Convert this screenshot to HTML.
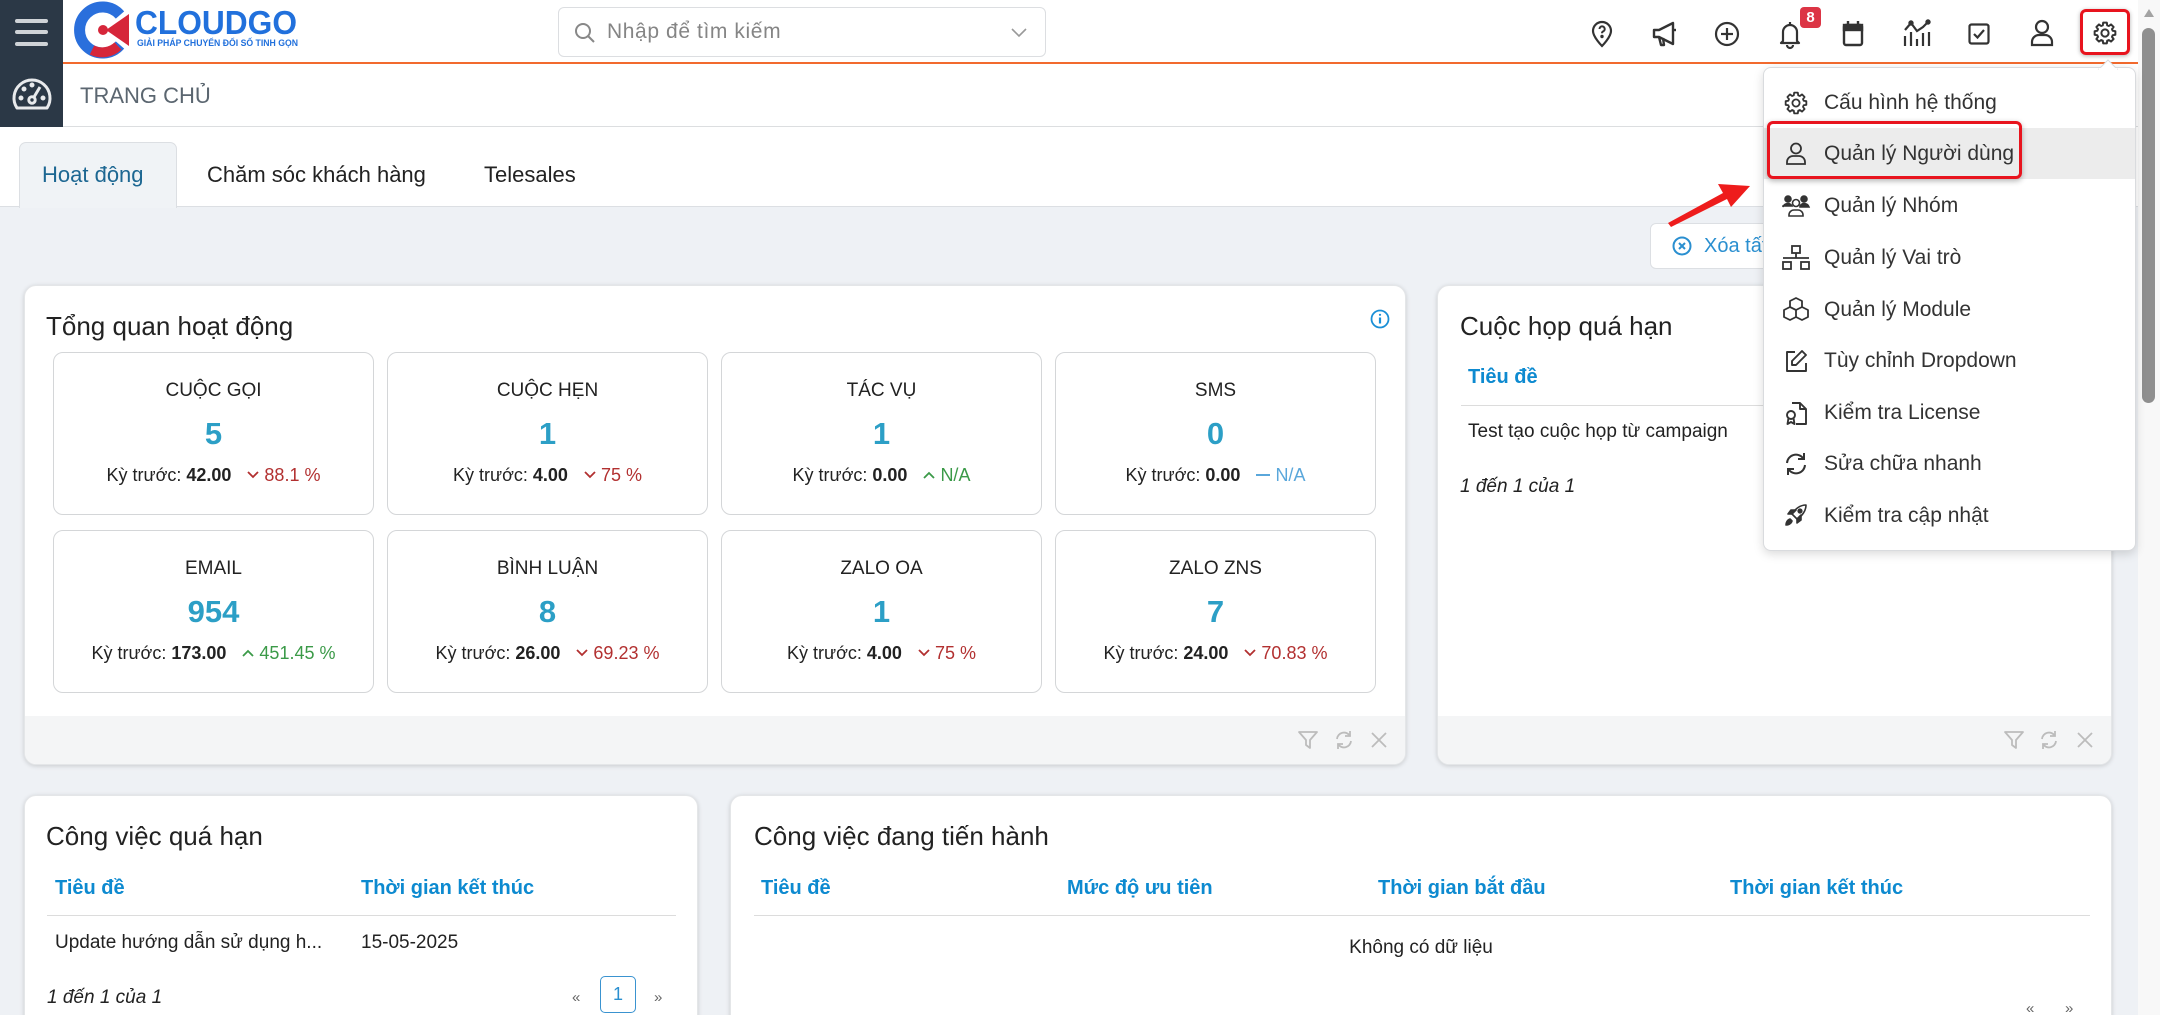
<!DOCTYPE html>
<html lang="vi"><head><meta charset="utf-8">
<style>
*{box-sizing:border-box;margin:0;padding:0}
html,body{width:2160px;height:1015px;overflow:hidden}
body{position:relative;background:#eef1f5;font-family:"Liberation Sans","DejaVu Sans",sans-serif;color:#222}
.a{position:absolute}
.ic{position:absolute;overflow:visible}
.card{position:absolute;background:#fff;border-radius:12px;box-shadow:0 1px 5px rgba(0,0,0,.16);border:1px solid #e4e6e8;overflow:hidden}
.ttl{position:absolute;font-size:26px;line-height:30px;color:#222;white-space:nowrap}
.box{position:absolute;width:321px;height:163px;border:1px solid #d4d6d8;border-radius:10px;text-align:center;background:#fff}
.lbl{position:absolute;left:0;right:0;top:25px;line-height:26px;font-size:19px;color:#222}
.val{position:absolute;left:0;right:0;top:63px;line-height:36px;font-size:31px;font-weight:bold;color:#2c9fc6}
.prev{position:absolute;left:0;right:0;top:109px;line-height:26px;font-size:18px;color:#222;white-space:nowrap}
.prev b{color:#222}
.red{color:#b23030}.grn{color:#3b9a48}.blu{color:#5aa7db}
.chev{display:inline-block;vertical-align:middle;margin:0 5px 3px 16px}
.th{position:absolute;font-size:20px;font-weight:bold;line-height:24px;color:#0d8ad0;white-space:nowrap}
.td{position:absolute;font-size:19px;line-height:24px;color:#222;white-space:nowrap}
.it{font-style:italic}
.foot{position:absolute;left:0;right:0;bottom:0;height:48px;background:#f4f5f6}
.dd{position:absolute;left:1763px;top:67px;width:373px;height:484px;background:#fff;border:1px solid #d9dbde;border-radius:8px;box-shadow:0 3px 10px rgba(0,0,0,.15)}
.mi{position:absolute;left:60px;font-size:21px;line-height:28px;color:#333;white-space:nowrap}
</style></head><body>

<!-- sidebar -->
<div class="a" style="left:0;top:0;width:63px;height:127px;background:#2b3846"></div>
<div class="a" style="left:15px;top:19px;width:33px;height:4px;border-radius:2px;background:#cfd3d7"></div>
<div class="a" style="left:15px;top:30px;width:33px;height:4px;border-radius:2px;background:#cfd3d7"></div>
<div class="a" style="left:15px;top:42px;width:33px;height:4px;border-radius:2px;background:#cfd3d7"></div>
<svg class="ic" style="left:11px;top:76px" width="42" height="36" viewBox="0 0 42 36" fill="none" stroke="#e8eaec" stroke-width="3">
<path d="M6 32 A18 18 0 1 1 36 32 Z" stroke-linejoin="round"/>
<circle cx="21" cy="24" r="3.2"/><line x1="23" y1="21" x2="29" y2="11"/>
<circle cx="10" cy="22" r="1" fill="#e8eaec"/><circle cx="13" cy="13" r="1" fill="#e8eaec"/><circle cx="21" cy="9" r="1" fill="#e8eaec"/><circle cx="32" cy="22" r="1" fill="#e8eaec"/>
</svg>

<!-- top bar -->
<div class="a" style="left:63px;top:0;width:2075px;height:62px;background:#fff"></div>
<div class="a" style="left:63px;top:62px;width:2075px;height:2px;background:#f26a2e"></div>
<div class="a" style="left:63px;top:64px;width:2075px;height:63px;background:#fff;border-bottom:1px solid #dcdee0"></div>
<div class="a" style="left:0;top:127px;width:2138px;height:80px;background:#fff;border-bottom:1px solid #dcdfe3"></div>

<!-- logo -->
<svg class="ic" style="left:72px;top:2px" width="232" height="56" viewBox="0 0 232 56">
<path d="M48 13 A23 23 0 1 0 48 43" fill="none" stroke="#2a6fdc" stroke-width="11"/>
<path d="M57 12 L57 44 L34 28 Z" fill="#d6263a"/>
<path d="M46 44 A23 23 0 0 1 20 48" fill="none" stroke="#d6263a" stroke-width="10"/>
<circle cx="31" cy="28" r="5" fill="#d6263a"/>
<text x="63" y="32" font-family="Liberation Sans" font-weight="bold" font-size="33" fill="#2170dc" textLength="162" lengthAdjust="spacingAndGlyphs">CLOUDGO</text>
<text x="65" y="44" font-family="Liberation Sans" font-weight="bold" font-size="9.5" fill="#2170dc" textLength="161" lengthAdjust="spacingAndGlyphs">GIẢI PHÁP CHUYỂN ĐỔI SỐ TINH GỌN</text>
</svg>

<!-- search -->
<div class="a" style="left:558px;top:7px;width:488px;height:50px;border:1px solid #dcdee1;border-radius:6px;background:#fff"></div>
<svg class="ic" style="left:574px;top:22px" width="22" height="22" viewBox="0 0 22 22" fill="none" stroke="#888" stroke-width="2"><circle cx="9" cy="9" r="7"/><line x1="14" y1="14" x2="20" y2="20"/></svg>
<div class="a" style="left:607px;top:18px;font-size:21px;letter-spacing:0.6px;line-height:28px;color:#858585">Nhập để tìm kiếm</div>
<svg class="ic" style="left:1011px;top:28px" width="16" height="10" viewBox="0 0 16 10" fill="none" stroke="#999" stroke-width="1.6"><polyline points="1,1 8,8 15,1"/></svg>

<!-- top icons -->
<svg class="ic" style="left:1590px;top:20px" width="24" height="28" viewBox="0 0 24 28" fill="none" stroke="#333" stroke-width="2.2"><path d="M12 2C7 2 3 6 3 11c0 6 9 15 9 15s9-9 9-15c0-5-4-9-9-9z"/><path d="M9.5 9a2.6 2.6 0 1 1 3.6 2.4c-.8.4-1.1.9-1.1 1.8" stroke-width="2"/><circle cx="12" cy="16.5" r=".6" fill="#333"/></svg>
<svg class="ic" style="left:1651px;top:20px" width="28" height="28" viewBox="0 0 28 28" fill="none" stroke="#333" stroke-width="2.4" stroke-linejoin="round"><path d="M3 10h5l14-7v21L8 17H3z"/><path d="M8 17l2 8h3l-1-7"/><line x1="22" y1="10" x2="25" y2="10"/></svg>
<svg class="ic" style="left:1714px;top:21px" width="26" height="26" viewBox="0 0 26 26" fill="none" stroke="#333" stroke-width="2.2"><circle cx="13" cy="13" r="11"/><line x1="13" y1="7" x2="13" y2="19"/><line x1="7" y1="13" x2="19" y2="13"/></svg>
<svg class="ic" style="left:1778px;top:19px" width="24" height="30" viewBox="0 0 24 30" fill="none" stroke="#333" stroke-width="2.2" stroke-linejoin="round"><path d="M12 3v2M5 22V13a7 7 0 0 1 14 0v9l2 2H3z"/><path d="M9 26a3 3 0 0 0 6 0"/></svg>
<div class="a" style="left:1800px;top:7px;width:21px;height:21px;border-radius:4px;background:#dc3545;color:#fff;font-size:15px;font-weight:bold;line-height:21px;text-align:center">8</div>
<svg class="ic" style="left:1842px;top:20px" width="22" height="27" viewBox="0 0 22 27" fill="none" stroke="#333" stroke-width="2.4"><rect x="2" y="5" width="18" height="20" rx="2"/><rect x="2" y="5" width="18" height="5" fill="#333"/><line x1="6" y1="1" x2="6" y2="6"/><line x1="16" y1="1" x2="16" y2="6"/></svg>
<svg class="ic" style="left:1902px;top:19px" width="28" height="28" viewBox="0 0 28 28" fill="none" stroke="#333" stroke-width="2.2"><line x1="3" y1="17" x2="3" y2="27"/><line x1="9" y1="13" x2="9" y2="27"/><line x1="15" y1="20" x2="15" y2="27"/><line x1="21" y1="14" x2="21" y2="27"/><line x1="27" y1="13" x2="27" y2="27"/><polyline points="3,11 9,4 15,12 21,8 26,3"/><circle cx="9" cy="4" r="1.6" fill="#333"/><circle cx="26" cy="3" r="1.6" fill="#333"/></svg>
<svg class="ic" style="left:1968px;top:23px" width="22" height="22" viewBox="0 0 22 22" fill="none" stroke="#333" stroke-width="2.2"><rect x="1.5" y="1.5" width="19" height="19" rx="2"/><polyline points="6,11 9.5,14.5 16,7"/></svg>
<svg class="ic" style="left:2030px;top:19px" width="24" height="28" viewBox="0 0 24 28" fill="none" stroke="#333" stroke-width="2.2"><circle cx="12" cy="8" r="6"/><path d="M2 26v-3a7 7 0 0 1 7-7h6a7 7 0 0 1 7 7v3z"/></svg>
<div class="a" style="left:2080px;top:9px;width:50px;height:46px;border:3px solid #e8141e;border-radius:6px;box-shadow:0 1px 4px rgba(0,0,0,.3)"></div>
<svg class="ic" style="left:2093px;top:21px" width="24" height="24" viewBox="0 0 24 24" fill="none" stroke="#333" stroke-width="2" stroke-linejoin="round"><polygon points="19.69,9.79 22.34,10.18 22.34,13.82 19.69,14.21 19,15.88 20.6,18.03 18.03,20.6 15.88,19 14.21,19.69 13.82,22.34 10.18,22.34 9.79,19.69 8.12,19 5.97,20.6 3.4,18.03 5,15.88 4.31,14.21 1.66,13.82 1.66,10.18 4.31,9.79 5,8.12 3.4,5.97 5.97,3.4 8.12,5 9.79,4.31 10.18,1.66 13.82,1.66 14.21,4.31 15.88,5 18.03,3.4 20.6,5.97 19,8.12"/><circle cx="12" cy="12" r="3.6"/></svg>

<!-- page title -->
<div class="a" style="left:80px;top:81px;font-size:22px;line-height:30px;color:#5b6670">TRANG CHỦ</div>

<!-- tabs -->
<div class="a" style="left:19px;top:142px;width:158px;height:66px;background:#f0f3f6;border:1px solid #dcdfe3;border-bottom:none;border-radius:7px 7px 0 0"></div>
<div class="a" style="left:42px;top:161px;font-size:22px;line-height:28px;color:#1d6792">Hoạt động</div>
<div class="a" style="left:207px;top:161px;font-size:22px;line-height:28px;color:#222">Chăm sóc khách hàng</div>
<div class="a" style="left:484px;top:161px;font-size:22px;line-height:28px;color:#222">Telesales</div>

<!-- Xoa button -->
<div class="a" style="left:1650px;top:223px;width:200px;height:46px;background:#fff;border:1px solid #dcdfe3;border-radius:6px"></div>
<svg class="ic" style="left:1672px;top:236px" width="20" height="20" viewBox="0 0 20 20" fill="none" stroke="#2a8fd0" stroke-width="2"><circle cx="10" cy="10" r="8.5"/><line x1="7" y1="7" x2="13" y2="13"/><line x1="13" y1="7" x2="7" y2="13"/></svg>
<div class="a" style="left:1704px;top:233px;font-size:20px;line-height:26px;color:#2a8fd0;white-space:nowrap">Xóa tất cả</div>

<!-- Card 1 -->
<div class="card" style="left:24px;top:285px;width:1382px;height:480px">
<div class="ttl" style="left:21px;top:25px">Tổng quan hoạt động</div>
<svg class="ic" style="left:1345px;top:23px" width="20" height="20" viewBox="0 0 20 20" fill="none" stroke="#1a8fd6" stroke-width="1.8"><circle cx="10" cy="10" r="8.5"/><line x1="10" y1="8.5" x2="10" y2="14.5" stroke-width="2.2"/><circle cx="10" cy="5.8" r="1.1" fill="#1a8fd6" stroke="none"/></svg>

<div class="box" style="left:28px;top:66px"><div class="lbl">CUỘC GỌI</div><div class="val">5</div><div class="prev">Kỳ trước: <b>42.00</b><svg class="chev" width="12" height="8" viewBox="0 0 12 8"><polyline points="1,1 6,6 11,1" fill="none" stroke="#b23030" stroke-width="1.8"/></svg><span class="red">88.1 %</span></div></div>
<div class="box" style="left:362px;top:66px"><div class="lbl">CUỘC HẸN</div><div class="val">1</div><div class="prev">Kỳ trước: <b>4.00</b><svg class="chev" width="12" height="8" viewBox="0 0 12 8"><polyline points="1,1 6,6 11,1" fill="none" stroke="#b23030" stroke-width="1.8"/></svg><span class="red">75 %</span></div></div>
<div class="box" style="left:696px;top:66px"><div class="lbl">TÁC VỤ</div><div class="val">1</div><div class="prev">Kỳ trước: <b>0.00</b><svg class="chev" width="12" height="8" viewBox="0 0 12 8"><polyline points="1,7 6,2 11,7" fill="none" stroke="#3b9a48" stroke-width="1.8"/></svg><span class="grn">N/A</span></div></div>
<div class="box" style="left:1030px;top:66px"><div class="lbl">SMS</div><div class="val">0</div><div class="prev">Kỳ trước: <b>0.00</b><svg class="chev" width="14" height="8" viewBox="0 0 14 8"><line x1="0" y1="4" x2="14" y2="4" stroke="#5aa7db" stroke-width="2"/></svg><span class="blu">N/A</span></div></div>

<div class="box" style="left:28px;top:244px"><div class="lbl">EMAIL</div><div class="val">954</div><div class="prev">Kỳ trước: <b>173.00</b><svg class="chev" width="12" height="8" viewBox="0 0 12 8"><polyline points="1,7 6,2 11,7" fill="none" stroke="#3b9a48" stroke-width="1.8"/></svg><span class="grn">451.45 %</span></div></div>
<div class="box" style="left:362px;top:244px"><div class="lbl">BÌNH LUẬN</div><div class="val">8</div><div class="prev">Kỳ trước: <b>26.00</b><svg class="chev" width="12" height="8" viewBox="0 0 12 8"><polyline points="1,1 6,6 11,1" fill="none" stroke="#b23030" stroke-width="1.8"/></svg><span class="red">69.23 %</span></div></div>
<div class="box" style="left:696px;top:244px"><div class="lbl">ZALO OA</div><div class="val">1</div><div class="prev">Kỳ trước: <b>4.00</b><svg class="chev" width="12" height="8" viewBox="0 0 12 8"><polyline points="1,1 6,6 11,1" fill="none" stroke="#b23030" stroke-width="1.8"/></svg><span class="red">75 %</span></div></div>
<div class="box" style="left:1030px;top:244px"><div class="lbl">ZALO ZNS</div><div class="val">7</div><div class="prev">Kỳ trước: <b>24.00</b><svg class="chev" width="12" height="8" viewBox="0 0 12 8"><polyline points="1,1 6,6 11,1" fill="none" stroke="#b23030" stroke-width="1.8"/></svg><span class="red">70.83 %</span></div></div>

<div class="foot">
<svg class="ic" style="left:1273px;top:14px" width="20" height="20" viewBox="0 0 20 20" fill="none" stroke="#bcbcbc" stroke-width="1.8" stroke-linejoin="round"><path d="M1 2h18l-7 8v8l-4-3v-5z"/></svg>
<svg class="ic" style="left:1309px;top:14px" width="20" height="20" viewBox="0 0 20 20" fill="none" stroke="#bcbcbc" stroke-width="1.8"><path d="M3 9a7 7 0 0 1 13-3"/><polyline points="16,1 16,6 11,6"/><path d="M17 11a7 7 0 0 1-13 3"/><polyline points="4,19 4,14 9,14"/></svg>
<svg class="ic" style="left:1345px;top:15px" width="18" height="18" viewBox="0 0 18 18" fill="none" stroke="#bcbcbc" stroke-width="1.8"><line x1="2" y1="2" x2="16" y2="16"/><line x1="16" y1="2" x2="2" y2="16"/></svg>
</div>
</div>

<!-- Card 2 -->
<div class="card" style="left:1437px;top:285px;width:675px;height:480px">
<div class="ttl" style="left:22px;top:25px">Cuộc họp quá hạn</div>
<div class="th" style="left:30px;top:79px">Tiêu đề</div>
<div class="a" style="left:23px;top:119px;width:630px;height:1px;background:#dcdcdc"></div>
<div class="td" style="left:30px;top:134px">Test tạo cuộc họp từ campaign</div>
<div class="td it" style="left:22px;top:189px">1 đến 1 của 1</div>
<div class="foot">
<svg class="ic" style="left:566px;top:14px" width="20" height="20" viewBox="0 0 20 20" fill="none" stroke="#bcbcbc" stroke-width="1.8" stroke-linejoin="round"><path d="M1 2h18l-7 8v8l-4-3v-5z"/></svg>
<svg class="ic" style="left:601px;top:14px" width="20" height="20" viewBox="0 0 20 20" fill="none" stroke="#bcbcbc" stroke-width="1.8"><path d="M3 9a7 7 0 0 1 13-3"/><polyline points="16,1 16,6 11,6"/><path d="M17 11a7 7 0 0 1-13 3"/><polyline points="4,19 4,14 9,14"/></svg>
<svg class="ic" style="left:638px;top:15px" width="18" height="18" viewBox="0 0 18 18" fill="none" stroke="#bcbcbc" stroke-width="1.8"><line x1="2" y1="2" x2="16" y2="16"/><line x1="16" y1="2" x2="2" y2="16"/></svg>
</div>
</div>

<!-- Card 3 -->
<div class="card" style="left:24px;top:795px;width:674px;height:260px">
<div class="ttl" style="left:21px;top:25px">Công việc quá hạn</div>
<div class="th" style="left:30px;top:80px">Tiêu đề</div>
<div class="th" style="left:336px;top:80px">Thời gian kết thúc</div>
<div class="a" style="left:22px;top:119px;width:629px;height:1px;background:#dcdcdc"></div>
<div class="td" style="left:30px;top:135px">Update hướng dẫn sử dụng h...</div>
<div class="td" style="left:336px;top:135px">15-05-2025</div>
<div class="td it" style="left:22px;top:190px">1 đến 1 của 1</div>
<div class="a" style="left:547px;top:190px;font-size:15px;line-height:24px;color:#666">«</div>
<div class="a" style="left:575px;top:180px;width:36px;height:37px;border:1px solid #3a93d0;border-radius:5px;color:#2a8fd0;font-size:18px;line-height:35px;text-align:center">1</div>
<div class="a" style="left:629px;top:190px;font-size:15px;line-height:24px;color:#666">»</div>
</div>

<!-- Card 4 -->
<div class="card" style="left:730px;top:795px;width:1382px;height:260px">
<div class="ttl" style="left:23px;top:25px">Công việc đang tiến hành</div>
<div class="th" style="left:30px;top:80px">Tiêu đề</div>
<div class="th" style="left:336px;top:80px">Mức độ ưu tiên</div>
<div class="th" style="left:647px;top:80px">Thời gian bắt đầu</div>
<div class="th" style="left:999px;top:80px">Thời gian kết thúc</div>
<div class="a" style="left:23px;top:119px;width:1336px;height:1px;background:#dcdcdc"></div>
<div class="td" style="left:0;width:1380px;text-align:center;top:140px">Không có dữ liệu</div>
<div class="a" style="left:1295px;top:201px;font-size:15px;line-height:24px;color:#666">«</div>
<div class="a" style="left:1334px;top:201px;font-size:15px;line-height:24px;color:#666">»</div>
</div>

<!-- scrollbar -->
<div class="a" style="left:2138px;top:0;width:22px;height:1015px;background:#f8f8f8"></div>
<svg class="ic" style="left:2143px;top:8px" width="12" height="10" viewBox="0 0 12 10"><polygon points="6,1 11,9 1,9" fill="#a3a3a3"/></svg>
<div class="a" style="left:2142px;top:28px;width:13px;height:375px;border-radius:7px;background:#8f8f8f"></div>

<!-- dropdown -->
<div class="dd">
<svg class="ic" style="left:335px;top:-9px" width="18" height="10" viewBox="0 0 18 10"><polygon points="0,10 9,1 18,10" fill="#fff" stroke="#d9dbde"/><rect x="0" y="9" width="18" height="2" fill="#fff"/></svg>
<div class="a" style="left:0;top:60px;width:371px;height:51px;background:#ececec"></div>

<svg class="ic" style="left:20px;top:23px" width="24" height="24" viewBox="0 0 24 24" fill="none" stroke="#333" stroke-width="1.8" stroke-linejoin="round"><polygon points="19.69,9.79 22.34,10.18 22.34,13.82 19.69,14.21 19,15.88 20.6,18.03 18.03,20.6 15.88,19 14.21,19.69 13.82,22.34 10.18,22.34 9.79,19.69 8.12,19 5.97,20.6 3.4,18.03 5,15.88 4.31,14.21 1.66,13.82 1.66,10.18 4.31,9.79 5,8.12 3.4,5.97 5.97,3.4 8.12,5 9.79,4.31 10.18,1.66 13.82,1.66 14.21,4.31 15.88,5 18.03,3.4 20.6,5.97 19,8.12"/><circle cx="12" cy="12" r="3.6"/></svg>
<div class="mi" style="top:21px">Cấu hình hệ thống</div>

<svg class="ic" style="left:21px;top:74px" width="22" height="24" viewBox="0 0 22 24" fill="none" stroke="#333" stroke-width="1.8"><circle cx="11" cy="6.5" r="5"/><path d="M2 22v-2a6 6 0 0 1 6-6h6a6 6 0 0 1 6 6v2z"/></svg>
<div class="mi" style="top:72px">Quản lý Người dùng</div>

<svg class="ic" style="left:18px;top:126px" width="28" height="24" viewBox="0 0 28 24" fill="#333" stroke="#333" stroke-width="1.6"><circle cx="6" cy="5" r="3"/><circle cx="22" cy="5" r="3"/><path d="M1 13a5 5 0 0 1 9-1H1z"/><path d="M18 12a5 5 0 0 1 9 1h-9z"/><circle cx="14" cy="9" r="3.5" fill="none"/><path d="M7 22v-1a5 5 0 0 1 5-5h4a5 5 0 0 1 5 5v1z" fill="none"/></svg>
<div class="mi" style="top:124px">Quản lý Nhóm</div>

<svg class="ic" style="left:18px;top:177px" width="28" height="26" viewBox="0 0 28 26" fill="none" stroke="#333" stroke-width="1.8"><rect x="10" y="1" width="8" height="7"/><rect x="1" y="17" width="8" height="7"/><rect x="19" y="17" width="8" height="7"/><path d="M14 8v5M1 13h26"/></svg>
<div class="mi" style="top:176px">Quản lý Vai trò</div>

<svg class="ic" style="left:19px;top:229px" width="26" height="26" viewBox="0 0 26 26" fill="none" stroke="#333" stroke-width="1.8" stroke-linejoin="round"><path d="M13 1l6 3v6l-6 3-6-3V4z"/><path d="M7 10l6 3v7l-6 3-6-3v-7z"/><path d="M19 10l6 3v7l-6 3-6-3"/></svg>
<div class="mi" style="top:228px">Quản lý Module</div>

<svg class="ic" style="left:20px;top:281px" width="24" height="24" viewBox="0 0 24 24" fill="none" stroke="#333" stroke-width="1.9" stroke-linejoin="round"><path d="M11 3H3v19h19v-8"/><path d="M18 2l4 4-10 10H8v-4z"/></svg>
<div class="mi" style="top:279px">Tùy chỉnh Dropdown</div>

<svg class="ic" style="left:20px;top:332px" width="24" height="26" viewBox="0 0 24 26" fill="none" stroke="#333" stroke-width="1.9" stroke-linejoin="round"><path d="M8 3h8l6 6v15h-10"/><path d="M16 3v6h6"/><circle cx="7" cy="15" r="4"/><path d="M4.5 18l-1 6 3.5-2 3.5 2-1-6"/></svg>
<div class="mi" style="top:331px">Kiểm tra License</div>

<svg class="ic" style="left:20px;top:384px" width="24" height="24" viewBox="0 0 24 24" fill="none" stroke="#333" stroke-width="2"><path d="M3 11a9 9 0 0 1 16-5"/><polyline points="20,1 20,7 14,7"/><path d="M21 13a9 9 0 0 1-16 5"/><polyline points="4,23 4,17 10,17"/></svg>
<div class="mi" style="top:382px">Sửa chữa nhanh</div>

<svg class="ic" style="left:20px;top:435px" width="24" height="24" viewBox="0 0 24 24" fill="#333" stroke="#333" stroke-width="1.6" stroke-linejoin="round"><path d="M22 2c-6 0-11 4-14 9l5 5c5-3 9-8 9-14z" fill="none"/><circle cx="16" cy="8" r="1.8"/><path d="M8 11H4l3-4h5zM13 16v4l4-3v-5z"/><path d="M6 16c-3 1-4 4-4 6 2 0 5-1 6-4z"/></svg>
<div class="mi" style="top:434px">Kiểm tra cập nhật</div>
</div>

<!-- highlight box -->
<div class="a" style="left:1767px;top:121px;width:255px;height:58px;border:3px solid #e8141e;border-radius:6px;box-shadow:0 2px 6px rgba(0,0,0,.3)"></div>

<!-- red arrow -->
<svg class="ic" style="left:0;top:0" width="2160" height="1015" viewBox="0 0 2160 1015"><polygon points="1668,223 1723,193 1718,184 1750,186 1731,207 1727,199 1671,227" fill="#ee1c1c"/></svg>

</body></html>
